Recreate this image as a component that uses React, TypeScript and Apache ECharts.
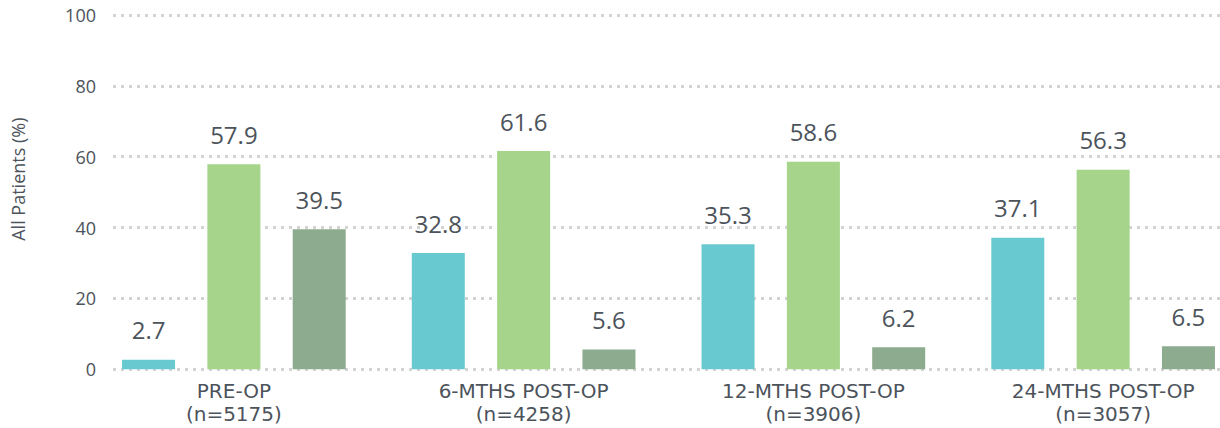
import React, { useEffect, useRef } from "react";
import * as echarts from "echarts";

const categories = ["PRE-OP\n(n=5175)", "6-MTHS POST-OP\n(n=4258)", "12-MTHS POST-OP\n(n=3906)", "24-MTHS POST-OP\n(n=3057)"];
const seriesA = [2.7, 32.8, 35.3, 37.1];
const seriesB = [57.9, 61.6, 58.6, 56.3];
const seriesC = [39.5, 5.6, 6.2, 6.5];
const yTicks = { min: 0, max: 100, interval: 20 };
const yName = "All Patients (%)";

const FONT = "'Open Sans', sans-serif";
const TEXT = "#4c535b";

export default function App() {
  const ref = useRef<HTMLDivElement>(null);
  useEffect(() => {
    document.body.style.margin = "0";
    if (!ref.current) return;
    const chart = echarts.init(ref.current, undefined, { renderer: "svg" });
    const label = {
      show: true,
      position: "top",
      distance: 18,
      color: TEXT,
      fontSize: 24,
      fontFamily: FONT,
    };
    const mk = (data: number[], color: string) => ({
      type: "bar",
      data,
      barWidth: 53,
      barGap: "61%",
      itemStyle: { color },
      label,
    });
    chart.setOption({
      animation: false,
      textStyle: { fontFamily: FONT },
      grid: { left: 89, top: 15, width: 1159, bottom: 58.7, containLabel: false, outerBoundsMode: "none" },
      xAxis: {
        type: "category",
        data: categories,
        axisLine: { show: false },
        axisTick: { show: false },
        axisLabel: {
          color: TEXT,
          fontSize: 20,
          fontFamily: "'DejaVu Sans', sans-serif",
          lineHeight: 23,
          margin: 10,
        },
      },
      yAxis: [
        {
          type: "value",
          ...yTicks,
          z: 3,
          name: yName,
          nameLocation: "middle",
          nameRotate: 90,
          nameGap: 62,
          nameTextStyle: { color: TEXT, fontSize: 18, fontFamily: FONT, padding: [0, 0, 0, 26] },
          axisLine: { show: false },
          axisTick: { show: false },
          splitLine: { show: false },
          axisLabel: { color: TEXT, fontSize: 18, fontFamily: FONT, margin: -7 },
        },
        {
          type: "value",
          ...yTicks,
          z: 0,
          position: "left",
          axisLine: { show: false },
          axisTick: { show: false },
          axisLabel: { show: false },
          splitLine: { show: true, lineStyle: { color: "#d3d3d3", width: 3, type: [3, 5] } },
        },
      ],
      graphic: [
        {
          type: "rect",
          z: 1,
          shape: { x: 60, y: 0, width: 51, height: 372 },
          style: { fill: "#ffffff" },
        },
      ],
      series: [mk(seriesA, "#69c9d0"), mk(seriesB, "#a5d48a"), mk(seriesC, "#8dab8e")],
    });
    return () => chart.dispose();
  }, []);
  return <div ref={ref} style={{ width: 1220, height: 428 }} />;
}
